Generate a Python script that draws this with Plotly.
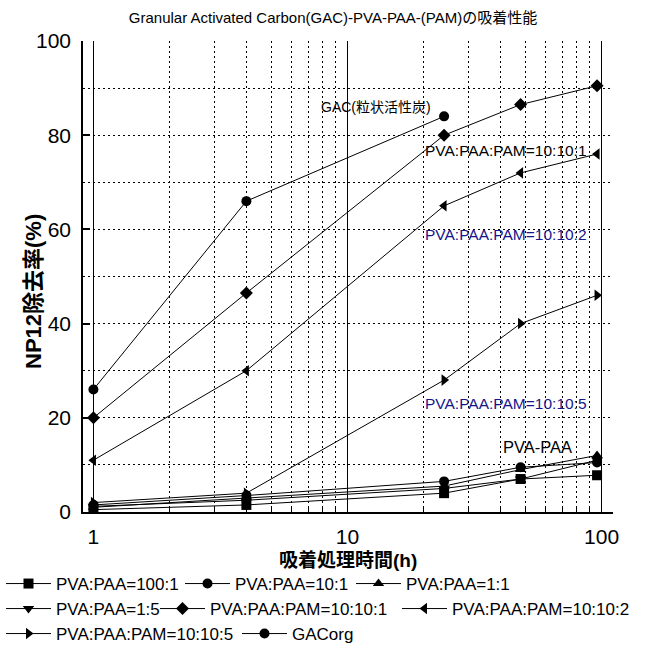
import plotly.graph_objects as go

# ---- data -------------------------------------------------------------
hours = [1, 4, 24, 48, 96]
gac_hours = [1, 4, 24]

pva_paa_100_1 = [0.5, 1.5, 4.0, 7.0, 7.8]
pva_paa_10_1 = [1.5, 3.5, 6.5, 9.5, 10.5]
pva_paa_1_1 = [1.0, 3.0, 5.5, 9.0, 12.0]
pva_paa_1_5 = [1.2, 2.5, 5.0, 7.0, 11.0]
pam_10_10_1 = [20, 46.5, 80, 86.5, 90.5]
pam_10_10_2 = [11, 30, 65, 72, 76]
pam_10_10_5 = [2, 4, 28, 40, 46]
gac_org = [26, 66, 84]

names = ["PVA:PAA=100:1", "PVA:PAA=10:1", "PVA:PAA=1:1",
         "PVA:PAA=1:5", "PVA:PAA:PAM=10:10:1", "PVA:PAA:PAM=10:10:2",
         "PVA:PAA:PAM=10:10:5", "GACorg"]
series = [pva_paa_100_1, pva_paa_10_1, pva_paa_1_1, pva_paa_1_5,
          pam_10_10_1, pam_10_10_2, pam_10_10_5, gac_org]
xs = [hours] * 7 + [gac_hours]
symbols = ["square", "circle", "triangle-up", "triangle-down",
           "diamond", "triangle-left", "triangle-right", "circle"]

x_tickvals = [1, 10, 100]
x_ticktext = ["1", "10", "100"]
x_minor = [2, 3, 4, 5, 6, 7, 8, 9, 20, 30, 40, 50, 60, 70, 80, 90]
y_tickvals = [0, 10, 20, 30, 40, 50, 60, 70, 80, 90, 100]
y_ticktext = ["0", "", "20", "", "40", "", "60", "", "80", "", "100"]
y_grid = [10, 20, 30, 40, 50, 60, 70, 80, 90]

title_text = "Granular Activated Carbon(GAC)-PVA-PAA-(PAM)の吸着性能"
x_title = "吸着処理時間(h)"
y_title = "NP12除去率(%)"

FONT = "Liberation Sans, Arial, Noto Sans CJK JP, sans-serif"
NAVY = "#16168c"
DOT = "2px,3px"

# ---- layout geometry (pixels) ----------------------------------------
W, H = 646, 653
L, R, T, B = 83, 33, 41, 141
PW, PH = W - L - R, H - T - B


def px_x(px):
    return (px - L) / PW


def px_y(py):
    return (H - B - py) / PH


fig = go.Figure()

# one legend per entry, reproducing the three legend rows of the original
leg_pos = [(1, 584), (180, 584), (351, 584),
           (1, 609), (155, 609), (397, 609),
           (1, 634), (237, 634)]
leg_keys = [f"legend{i + 2}" for i in range(len(names))]

for name, xv, yv, sym, lg in zip(names, xs, series, symbols, leg_keys):
    fig.add_trace(go.Scatter(
        x=xv, y=yv, name=name, mode="lines+markers",
        line=dict(color="black", width=1),
        marker=dict(symbol=sym, size=10, color="black"),
        legend=lg,
    ))

legends = {}
for key, (lx, ly) in zip(leg_keys, leg_pos):
    legends[key] = dict(
        x=px_x(lx), y=px_y(ly), xanchor="left", yanchor="middle",
        orientation="h", bgcolor="rgba(0,0,0,0)", borderwidth=0,
        font=dict(family=FONT, size=17, color="black"),
        itemwidth=45, tracegroupgap=0,
    )

annotations = [
    dict(text="GAC(粒状活性炭)", x=px_x(376), y=px_y(107), size=14, color="black"),
    dict(text="PVA:PAA:PAM=10:10:1", x=px_x(506), y=px_y(151), size=15.5, color="black"),
    dict(text="PVA:PAA:PAM=10:10:2", x=px_x(506), y=px_y(234), size=15.5, color=NAVY),
    dict(text="PVA:PAA:PAM=10:10:5", x=px_x(506), y=px_y(403), size=15.5, color=NAVY),
    dict(text="PVA-PAA", x=px_x(537), y=px_y(447), size=16.5, color="black"),
]
ann = []
for a in annotations:
    ann.append(dict(text=a["text"], x=a["x"], y=a["y"], xref="paper", yref="paper",
                    showarrow=False, xanchor="center", yanchor="middle",
                    font=dict(family=FONT, size=a["size"], color=a["color"])))

# axis titles as annotations
ann.append(dict(text="<b>" + x_title + "</b>", x=px_x(348), y=px_y(560),
                xref="paper", yref="paper", showarrow=False,
                xanchor="center", yanchor="middle",
                font=dict(family=FONT, size=19, color="black")))
ann.append(dict(text="<b>" + y_title + "</b>", x=px_x(33), y=px_y(291),
                xref="paper", yref="paper", showarrow=False, textangle=-90,
                xanchor="center", yanchor="middle",
                font=dict(family=FONT, size=22, color="black")))

fig.update_layout(
    width=W, height=H,
    margin=dict(l=L, r=R, t=T, b=B, autoexpand=False),
    paper_bgcolor="white", plot_bgcolor="white",
    showlegend=True,
    title=dict(text=title_text, x=333 / W, xanchor="center", xref="container",
               y=1 - 18 / H, yanchor="middle", yref="container",
               font=dict(family=FONT, size=15, color="black")),
    annotations=ann,
    xaxis=dict(
        type="log", range=[-0.041, 2.045],
        tickmode="array", tickvals=x_tickvals, ticktext=x_ticktext,
        ticks="", showgrid=True, gridcolor="black", gridwidth=1,
        showline=True, linecolor="black", linewidth=1.5, zeroline=False,
        tickfont=dict(family=FONT, size=21, color="black"),
        ticklabelstandoff=5,
        minor=dict(tickmode="array", tickvals=x_minor, showgrid=True,
                   gridcolor="black", griddash=DOT, gridwidth=1,
                   ticks="inside", ticklen=5, tickcolor="black", tickwidth=1),
    ),
    yaxis=dict(
        range=[0, 100], tickmode="array", tickvals=y_tickvals, ticktext=y_ticktext,
        ticks="inside", ticklen=7, tickwidth=1.5, tickcolor="black",
        showgrid=False,
        showline=True, linecolor="black", linewidth=1.5, zeroline=False,
        tickfont=dict(family=FONT, size=21, color="black"),
        ticklabelstandoff=6,
        minor=dict(tickmode="array", tickvals=y_grid, showgrid=True,
                   gridcolor="black", griddash=DOT, gridwidth=1,
                   ticks="outside", ticklen=0, tickcolor="rgba(0,0,0,0)"),
    ),
    **legends,
)

fig.write_html(
    "out.html",
    config={"displayModeBar": False},
    post_script="document.body.style.margin='0';document.body.style.overflow='hidden';",
)
